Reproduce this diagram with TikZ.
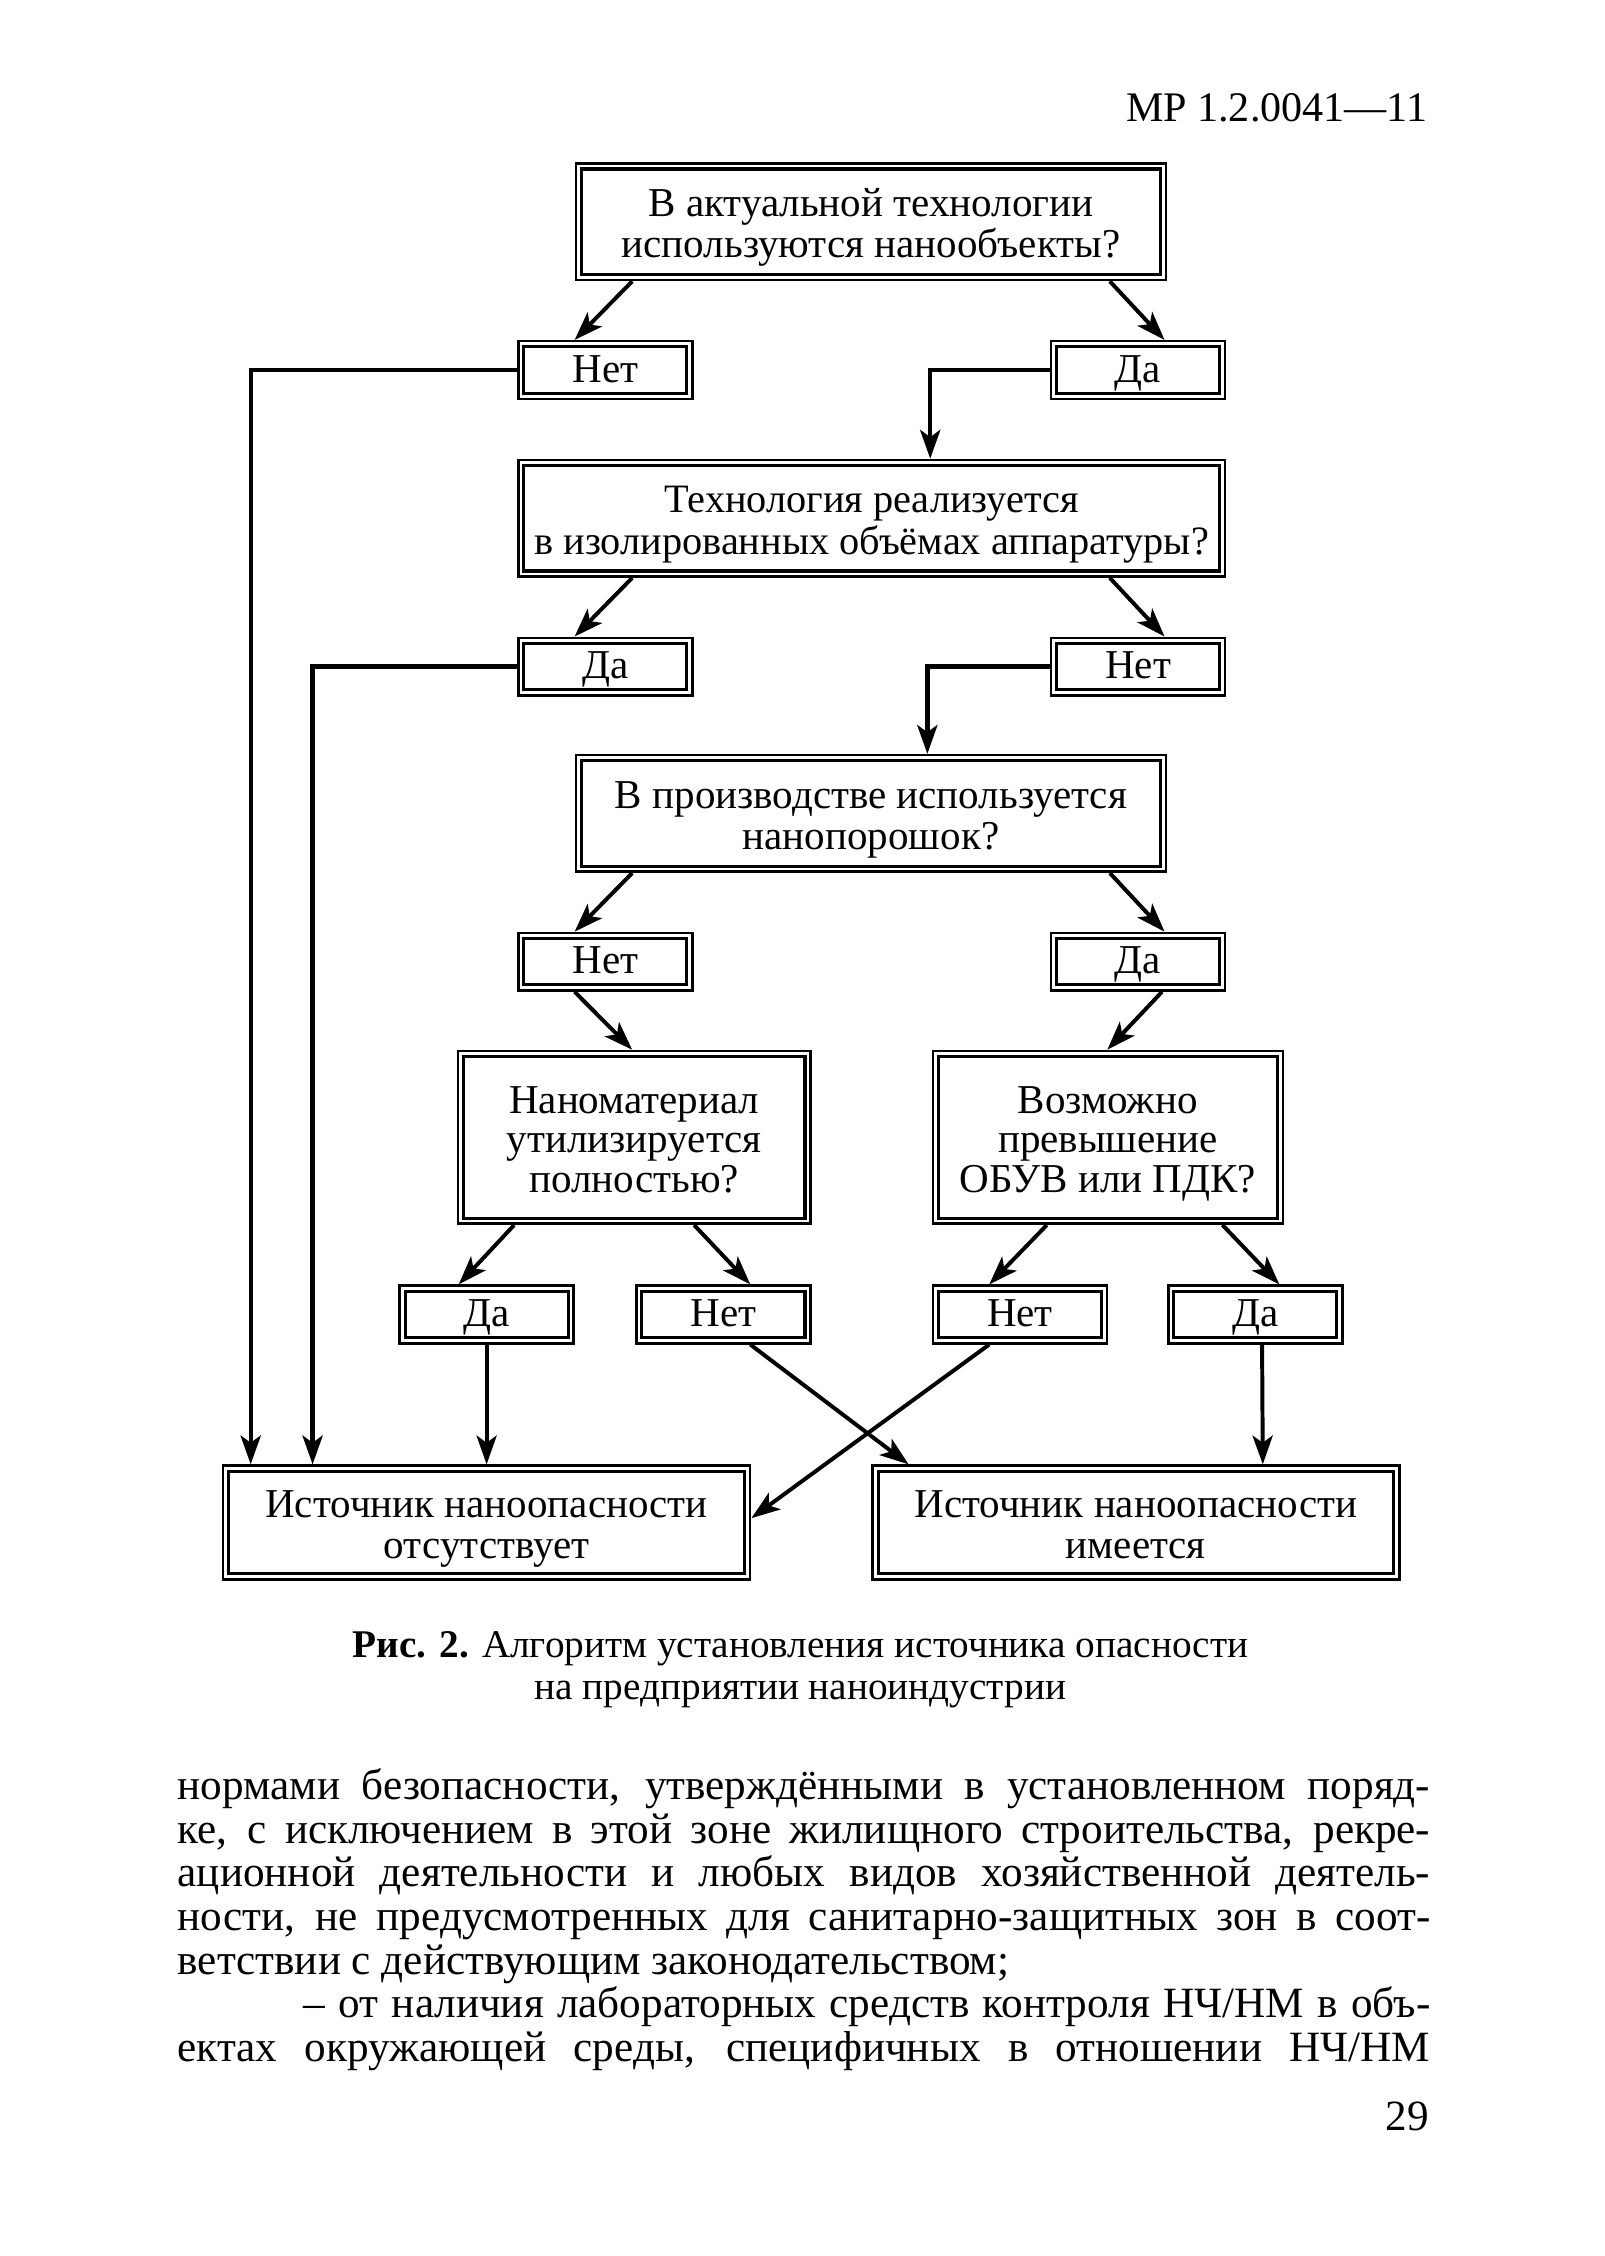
\documentclass[tikz,border=0pt]{standalone}
\usepackage{fontspec}
\setmainfont{Liberation Serif}
\usetikzlibrary{calc,arrows.meta}
\newcommand{\myTop}{\rule{0pt}{11pt}}
\newcommand{\myBot}{\rule[-2.5pt]{0pt}{0pt}}
\begin{document}
\begin{tikzpicture}[x=0.4pt,y=-0.4pt,
 txt/.style={font=\fontsize{11.4}{11.5}\selectfont, align=center, inner sep=0pt},
 dbox/.style={txt, draw, line width=0.7pt,
   path picture={\draw[line width=0.85pt] ([shift={(1.55pt,1.55pt)}]path picture bounding box.south west) rectangle ([shift={(-1.55pt,-1.55pt)}]path picture bounding box.north east);}},
 qbox/.style={dbox, minimum height=32.4pt},
 ans/.style={dbox, minimum width=48.4pt, minimum height=16pt, text height=9.2pt, text depth=2.4pt},
 arr/.style={line width=1.1pt, -{Stealth[length=8pt,width=5.6pt,inset=2pt]}},
 lnarr/.style={line width=1.2pt, -{Stealth[length=8pt,width=5.6pt,inset=2pt]}}
]
\useasboundingbox[fill=white] (0,0) rectangle (1114.5,1567);

\node[font=\fontsize{11.7}{13}\selectfont, anchor=east, inner sep=0pt] (hdr) at (992,75) {МР 1.2.0041—11};

\node[qbox, minimum width=164pt] (A) at (605,154) {\myTop В актуальной технологии\\используются нанообъекты?\myBot};
\node[ans] (n1) at (420.5,257) {Нет};
\node[ans] (y1) at (790.5,257) {Да};

\node[qbox, minimum width=196.4pt, font=\fontsize{11.2}{11.5}\selectfont] (B) at (605.5,360) {\myTop Технология реализуется\\в изолированных объёмах аппаратуры?\myBot};
\node[ans] (y2) at (420.5,463) {Да};
\node[ans] (n2) at (790.5,463) {Нет};

\node[qbox, minimum width=164pt] (C) at (605,565) {\myTop В производстве используется\\нанопорошок?\myBot};
\node[ans] (n3) at (420.5,668) {Нет};
\node[ans] (y3) at (790.5,668) {Да};

\node[dbox, minimum width=98pt, minimum height=48pt, font=\fontsize{11.4}{11}\selectfont] (D) at (440.5,790) {\myTop Наноматериал\\утилизируется\\полностью?\myBot};
\node[dbox, minimum width=97.2pt, minimum height=48pt, font=\fontsize{11.4}{11}\selectfont] (E) at (769.5,790) {\myTop Возможно\\превышение\\ОБУВ или ПДК?\myBot};

\node[ans] (y4) at (338,913) {Да};
\node[ans] (n4) at (502.5,913) {Нет};
\node[ans] (n5) at (708.5,913) {Нет};
\node[ans] (y5) at (872,913) {Да};

\node[qbox, minimum width=146.4pt, minimum height=31.6pt] (G) at (338,1057.5) {\myTop Источник наноопасности\\отсутствует\myBot};
\node[qbox, minimum width=146.4pt, minimum height=31.6pt] (H) at (789,1057.5) {\myTop Источник наноопасности\\имеется\myBot};

% arrows from questions
\draw[arr] ($(A.south west)+(40,0)$) -- ($(n1.north west)+(40,0)$);
\draw[arr] ($(A.south east)+(-40,0)$) -- ($(y1.north east)+(-43,0)$);
\draw[arr] ($(B.south west)+(80,0)$) -- ($(y2.north west)+(40,0)$);
\draw[arr] ($(B.south east)+(-81,0)$) -- ($(n2.north east)+(-43,0)$);
\draw[arr] ($(C.south west)+(40,0)$) -- ($(n3.north west)+(40,0)$);
\draw[arr] ($(C.south east)+(-40,0)$) -- ($(y3.north east)+(-43,0)$);
\draw[arr] ($(n3.south west)+(40,0)$) -- ($(D.north west)+(122,0)$);
\draw[arr] ($(y3.south west)+(78,0)$) -- ($(E.north west)+(122,0)$);
\draw[arr] ($(D.south west)+(40,0)$) -- ($(y4.north west)+(42,0)$);
\draw[arr] ($(D.south west)+(165,0)$) -- ($(n4.north west)+(80,0)$);
\draw[arr] ($(E.south west)+(80,0)$) -- ($(n5.north west)+(40,0)$);
\draw[arr] ($(E.south west)+(202,0)$) -- ($(y5.north west)+(78,0)$);

% connectors from answers
\draw[lnarr] (n1.west) -| ($(G.north west)+(20,0)$);
\draw[lnarr] (y2.west) -| ($(G.north west)+(63,0)$);
\draw[lnarr] (y1.west) -| ($(B.north west)+(287,0)$);
\draw[lnarr] (n2.west) -| ($(C.north west)+(245,0)$);
\draw[arr] (y4.south) -- (y4.south |- G.north);
\draw[arr] ($(y5.south west)+(66,0)$) -- ($(H.north west)+(272,0)$);
\draw[arr] ($(n4.south west)+(80,0)$) -- ($(H.north west)+(26,0)$);
\draw[arr] ($(n5.south west)+(40,0)$) -- ($(G.east)+(0,-3)$);

% caption
\node[txt, font=\fontsize{10.9}{11.6}\selectfont] (cap) at (556,1160) {\textbf{Рис. 2.} Алгоритм установления источника опасности\\на предприятии наноиндустрии};

% body text
\node[anchor=north west, inner sep=0pt, align=left, font=\fontsize{12}{12.12}\selectfont] (body) at (123,1228) {%
\makebox[348pt][s]{нормами безопасности, утверждёнными в установленном поряд-}\\
\makebox[348pt][s]{ке, с исключением в этой зоне жилищного строительства, рекре-}\\
\makebox[348pt][s]{ационной деятельности и любых видов хозяйственной деятель-}\\
\makebox[348pt][s]{ности, не предусмотренных для санитарно-защитных зон в соот-}\\
\makebox[348pt][l]{ветствии с действующим законодательством;}\\
\hspace*{35pt}\makebox[313pt][s]{– от наличия лабораторных средств контроля НЧ/НМ в объ-}\\
\makebox[348pt][s]{ектах окружающей среды, специфичных в отношении НЧ/НМ}};

\node[font=\fontsize{12}{13}\selectfont, anchor=east, inner sep=0pt] (pg) at (993,1470) {29};
\end{tikzpicture}
\end{document}
